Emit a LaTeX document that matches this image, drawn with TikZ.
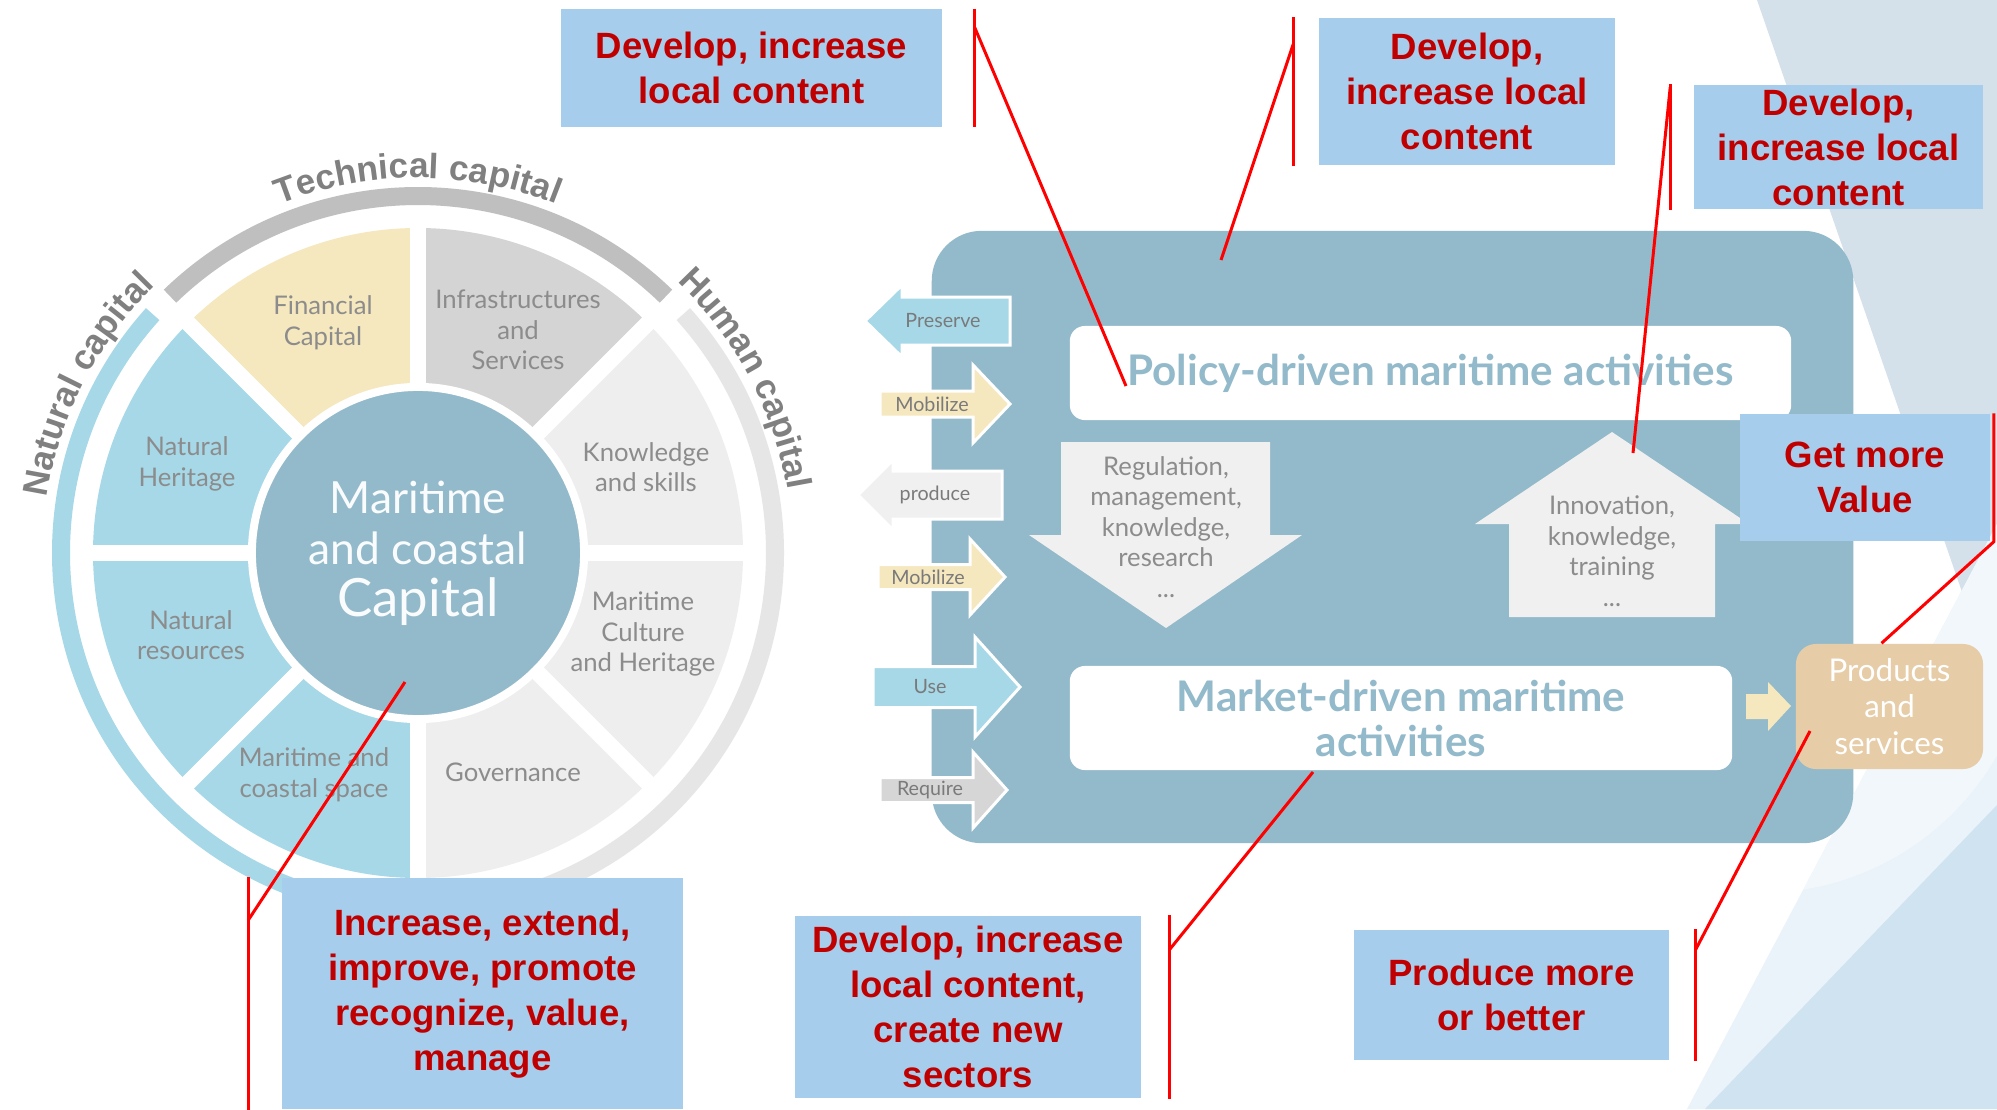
\documentclass[tikz,border=0pt]{standalone}
\usepackage{fontspec}
\setmainfont{Lato}
\newfontfamily\calloutfont{Liberation Sans}
\usetikzlibrary{calc}
\usetikzlibrary{decorations.text}

\definecolor{panelblue}{HTML}{93BACA}
\definecolor{natblue}{HTML}{A6D8E8}
\definecolor{finyellow}{HTML}{F5E7BE}
\definecolor{infragray}{HTML}{D4D4D4}
\definecolor{humgray}{HTML}{EEEEEE}
\definecolor{techring}{HTML}{BFBFBF}
\definecolor{humring}{HTML}{E6E6E6}
\definecolor{flowgray}{HTML}{F0F0F0}
\definecolor{reqgray}{HTML}{D6D6D6}
\definecolor{prodtan}{HTML}{E6CDA8}
\definecolor{callblue}{HTML}{A6CEEC}
\definecolor{calltext}{HTML}{C00000}
\definecolor{pointred}{HTML}{FF0000}
\definecolor{labelgray}{HTML}{8C8C8C}
\definecolor{flowtext}{HTML}{7A7A7A}
\definecolor{curvegray}{HTML}{808080}
\definecolor{bgtop}{HTML}{D4E0EA}
\definecolor{bgpale}{HTML}{EAF3F9}
\definecolor{bglight}{HTML}{F2F7FB}
\definecolor{bgblue}{HTML}{CFE3F0}

\newcommand\curvefont{\calloutfont\bfseries\fontsize{10}{12}\selectfont}

\tikzset{
  sectorlabel/.style={text=labelgray, font=\fontsize{7.3}{8.7}\selectfont, align=center, inner sep=0pt},
  flowlabel/.style={text=flowtext, font=\fontsize{5.6}{6.5}\selectfont, inner sep=0pt},
  activity/.style={fill=white, rounded corners=0.15cm, text=panelblue, inner sep=0pt,
    font=\bfseries\fontsize{12}{12.8}\selectfont, align=center},
  callout/.style={fill=callblue, text=calltext, inner sep=0pt, align=center,
    font=\calloutfont\bfseries\fontsize{10.4}{12.8}\selectfont},
  pointer/.style={draw=pointred, line width=0.03cm},
  ring/.style={line width=0.18cm},
}

\begin{document}
\begin{tikzpicture}[x=0.01cm,y=-0.01cm]
\fill[white] (0,0) rectangle (1997,1109);
\useasboundingbox (0,0) rectangle (1997,1109);

% background facets
\fill[bgtop] (1757,0) -- (1997,0) -- (1997,693) -- cycle;
\fill[bgpale] (1687,1109) -- (1997,524) -- (1997,1109) -- cycle;
\begin{scope}
  \clip (1687,1109) -- (1997,524) -- (1997,1109) -- cycle;
  \fill[bglight] (1760,620) circle[radius=273];
\end{scope}
\fill[bgblue] (1705,1109) -- (1997,805) -- (1997,1109) -- cycle;

% capital wheel
\coordinate (wc) at (418,553);
\foreach \a/\col in {0/humgray,-45/infragray,-90/finyellow,-135/natblue,-180/natblue,-225/natblue,-270/humgray,-315/humgray}
  \fill[\col] (wc) -- ++(\a:325) arc[start angle=\a, end angle=\a-45, radius=325] -- cycle;
\foreach \a in {0,45,90,135}
  \draw[white, line width=0.16cm] ($(wc)+(\a:340)$) -- ($(wc)+(\a+180:340)$);
\draw[ring, techring] ($(wc)+(-46:357)$) arc[start angle=-46, end angle=-134, radius=357];
\draw[ring, natblue] ($(wc)+(-138:357)$) arc[start angle=-138, end angle=-266, radius=357];
\draw[ring, humring] ($(wc)+(-42:357)$) arc[start angle=-42, end angle=94, radius=357];

\path[decorate, decoration={text along path, text color=curvegray, text align=center,
  text={|\curvefont|Technical capital}}]
  ($(wc)+(-150:375)$) arc[start angle=-150, end angle=-30, radius=375];
\path[decorate, decoration={text along path, text color=curvegray, text align=center,
  text={|\curvefont|Natural capital}}]
  ($(wc)+(-198:375)$) arc[start angle=-198, end angle=-108, radius=375];
\path[decorate, decoration={text along path, text color=curvegray, text align=center,
  text={|\curvefont|Human capital}}]
  ($(wc)+(-73:375)$) arc[start angle=-73, end angle=17, radius=375];

\node[circle, fill=panelblue, draw=white, line width=0.08cm, minimum size=3.32cm, inner sep=0pt,
  text=white!95!panelblue, align=center, font=\fontsize{12.6}{14.6}\selectfont] (core) at (wc)
  {Maritime\\and coastal\\{\fontsize{15}{15}\selectfont Capital}};

\node[sectorlabel] (fin) at (323,323) {Financial\\Capital};
\node[sectorlabel] (infra) at (518,330) {Infrastructures\\and\\Services};
\node[sectorlabel] (know) at (646,467) {Knowledge\\and skills};
\node[sectorlabel] (cult) at (643,634) {Maritime\\Culture\\and Heritage};
\node[sectorlabel] (gov) at (513,772) {Governance};
\node[sectorlabel] (space) at (314,775) {Maritime and\\coastal space};
\node[sectorlabel] (natres) at (191,635) {Natural\\resources};
\node[sectorlabel] (nather) at (187,464) {Natural\\Heritage};

% activities panel
\node[fill=panelblue, rounded corners=0.5cm, minimum width=9.21cm, minimum height=6.12cm, inner sep=0pt] (panel) at (1392.5,537) {};
\node[activity, minimum width=7.21cm, minimum height=0.94cm] (policy) at (1430.5,373) {Policy-driven maritime activities};
\node[activity, minimum width=6.62cm, minimum height=1.04cm] (market) at (1401,718) {Market-driven maritime\\activities};
\node[fill=prodtan, rounded corners=0.2cm, minimum width=1.87cm, minimum height=1.25cm, inner sep=0pt,
  text=white, align=center, font=\fontsize{8.9}{10.4}\selectfont] (prod) at (1889.5,706.5) {Products\\and\\services};

\fill[flowgray] (1061,442) -- (1270,442) -- (1270,535) -- (1302,535) -- (1166,628) -- (1029,535) -- (1061,535) -- cycle;
\node[sectorlabel] (reg) at (1166,527) {Regulation,\\management,\\knowledge,\\research\\...};
\fill[flowgray] (1509,617) -- (1715,617) -- (1715,524) -- (1749,524) -- (1612,432) -- (1475,524) -- (1509,524) -- cycle;
\node[sectorlabel] (inno) at (1612,551) {Innovation,\\knowledge,\\training\\...};
\fill[finyellow] (1746,694) -- (1768,694) -- (1768,682) -- (1791,706) -- (1768,731) -- (1768,719) -- (1746,719) -- cycle;

% side arrows: name/label/colour/y/back/head/tip/shaft/head half/label x
\foreach \nm/\lbl/\col/\yc/\xa/\xb/\xc/\sh/\hh/\xt in {
    pres/Preserve/natblue/321/1010/902/865/24/36/943,
    mobA/Mobilize/finyellow/404/880/973/1010/13/39/932,
    give/produce/flowgray/495/1002/893/858/24/35/935,
    mobB/Mobilize/finyellow/577/878/970/1005/12.5/38/928,
    use/Use/natblue/687/873/975/1020/20.5/50/930,
    req/Require/reqgray/790/880/973/1007/12.5/38/930}{
  \filldraw[fill=\col, draw=white, line width=0.03cm] (\xa,\yc-\sh) -- (\xb,\yc-\sh) -- (\xb,\yc-\hh) -- (\xc,\yc)
    -- (\xb,\yc+\hh) -- (\xb,\yc+\sh) -- (\xa,\yc+\sh) -- cycle;
  \node[flowlabel] (\nm) at (\xt,\yc) {\lbl};
}

% callouts
\node[callout, minimum width=3.81cm, minimum height=1.17cm] (call1) at (751.5,68) {Develop, increase\\local content};
\node[callout, minimum width=2.96cm, minimum height=1.47cm] (call2) at (1467,91.5) {Develop,\\increase local\\content};
\node[callout, minimum width=2.89cm, minimum height=1.24cm] (call3) at (1838.5,147) {Develop,\\increase local\\content};
\node[callout, minimum width=2.50cm, minimum height=1.27cm] (callValue) at (1865,477.5) {Get more\\Value};
\node[callout, minimum width=4.01cm, minimum height=2.31cm] (callWheel) at (482.5,993.5) {Increase, extend,\\improve, promote\\recognize, value,\\manage};
\node[callout, minimum width=3.46cm, minimum height=1.82cm] (callMarket) at (968,1007) {Develop, increase\\local content,\\create new\\sectors};
\node[callout, minimum width=3.15cm, minimum height=1.30cm] (callProduce) at (1511.5,995) {Produce more\\or better};

% pointers
\coordinate (t1) at (1126,386);
\coordinate (t2) at (1221,260);
\coordinate (t3) at (1633,453);
\coordinate (tP) at (1810,731);
\coordinate (tM) at (1313,772);
\coordinate (tW) at (405,682);
\draw[pointer] ([xshift=0.32cm]call1.north east) -- ([xshift=0.32cm]call1.south east);
\draw[pointer] ([xshift=0.32cm,yshift=-0.19cm]call1.north east) -- (t1);
\draw[pointer] ([xshift=-0.25cm]call2.north west) -- ([xshift=-0.25cm]call2.south west);
\draw[pointer] ([xshift=-0.25cm,yshift=-0.27cm]call2.north west) -- (t2);
\draw[pointer] ([xshift=-0.23cm]call3.north west) -- ([xshift=-0.23cm]call3.south west);
\draw[pointer] ([xshift=-0.23cm,yshift=-0.03cm]call3.north west) -- (t3);
\draw[pointer] ([xshift=0.03cm]callValue.north east) -- ([xshift=0.03cm]callValue.south east) -- ([xshift=-0.08cm]prod.north);
\draw[pointer] ([xshift=0.26cm]callProduce.north east) -- ([xshift=0.26cm]callProduce.south east);
\draw[pointer] ([xshift=0.26cm,yshift=-0.2cm]callProduce.north east) -- (tP);
\draw[pointer] ([xshift=0.28cm]callMarket.north east) -- ([xshift=0.28cm]callMarket.south east);
\draw[pointer] ([xshift=0.28cm,yshift=-0.34cm]callMarket.north east) -- (tM);
\draw[pointer] ([xshift=-0.33cm]callWheel.north west) -- ([xshift=-0.33cm]callWheel.south west);
\draw[pointer] ([xshift=-0.33cm,yshift=-0.43cm]callWheel.north west) -- (tW);
\end{tikzpicture}
\end{document}
